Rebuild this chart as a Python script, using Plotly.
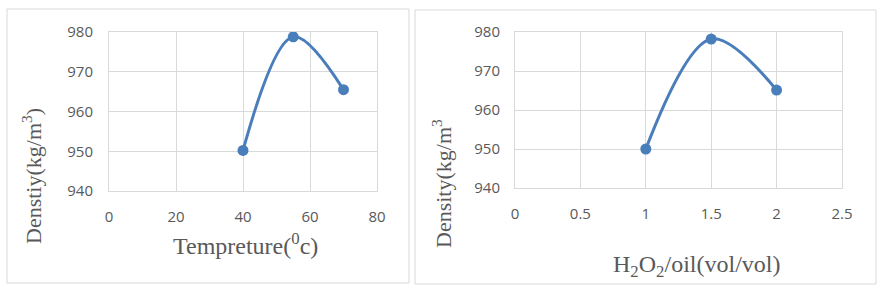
import plotly.graph_objects as go

# Data
temp_x = [40, 55, 70]
temp_density = [950.2, 978.8, 965.5]
ratio_x = [1, 1.5, 2]
ratio_density = [950.0, 978.2, 965.1]

W, H = 884, 293
LINE = "#4a7ebb"
GRID = "#d9d9d9"
TXT = "#595959"

def px(x):
    return x / W

def py(y):
    return 1 - y / H

fig = go.Figure()
fig.add_trace(go.Scatter(x=temp_x, y=temp_density, mode="lines+markers",
                         line=dict(color=LINE, width=3, shape="spline", smoothing=1),
                         marker=dict(size=11, color=LINE), xaxis="x", yaxis="y",
                         showlegend=False))
fig.add_trace(go.Scatter(x=ratio_x, y=ratio_density, mode="lines+markers",
                         line=dict(color=LINE, width=3, shape="spline", smoothing=1),
                         marker=dict(size=11, color=LINE), xaxis="x2", yaxis="y2",
                         showlegend=False))

tickfont = dict(family="Open Sans, DejaVu Sans, sans-serif", size=15, color=TXT)
common = dict(showgrid=True, gridcolor=GRID, gridwidth=1, showline=True, linecolor=GRID,
              mirror=True, zeroline=False, tickfont=tickfont, ticks="outside",
              tickcolor="rgba(0,0,0,0)", fixedrange=True, automargin=False)

fig.update_layout(
    template="none",
    width=W, height=H, margin=dict(l=0, r=0, t=0, b=0, pad=0),
    paper_bgcolor="white", plot_bgcolor="white",
    xaxis=dict(domain=[px(109), px(377)], range=[0, 80], dtick=20, anchor="y",
               ticklen=12, **common),
    yaxis=dict(domain=[py(191), py(32)], range=[940, 980], dtick=10, anchor="x",
               ticklen=12, **common),
    xaxis2=dict(domain=[px(515), px(842)], range=[0, 2.5], dtick=0.5, anchor="y2",
                ticklen=12, **common),
    yaxis2=dict(domain=[py(188), py(32)], range=[940, 980], dtick=10, anchor="x2",
                ticklen=11, **common),
)

# Panel borders
fig.add_shape(type="rect", xref="paper", yref="paper", x0=px(7), x1=px(409), y0=py(283), y1=py(9),
              line=dict(color=GRID, width=1))
fig.add_shape(type="rect", xref="paper", yref="paper", x0=px(415), x1=px(876), y0=py(284), y1=py(10),
              line=dict(color=GRID, width=1))

tfont = dict(family="Liberation Serif, Times New Roman, serif", size=22, color=TXT)
xfont = dict(family="Liberation Serif, Times New Roman, serif", size=24, color=TXT)
ann = dict(xref="paper", yref="paper", showarrow=False,
           xanchor="center", yanchor="middle")
fig.add_annotation(text="Tempreture(<sup>0</sup>c)", x=px(245), y=py(244), font=xfont, **ann)
fig.add_annotation(text="Denstiy(kg/m<sup>3</sup>)", x=px(32), y=py(176), textangle=-90, font=tfont, **ann)
fig.add_annotation(text="Density(kg/m<sup>3</sup>", x=px(442), y=py(184), textangle=-90, font=tfont, **ann)
fig.add_annotation(text="H<sub>2</sub>O<sub>2</sub>/oil(vol/vol)", x=px(696), y=py(266), font=xfont, **ann)

fig.write_html("out.html")
